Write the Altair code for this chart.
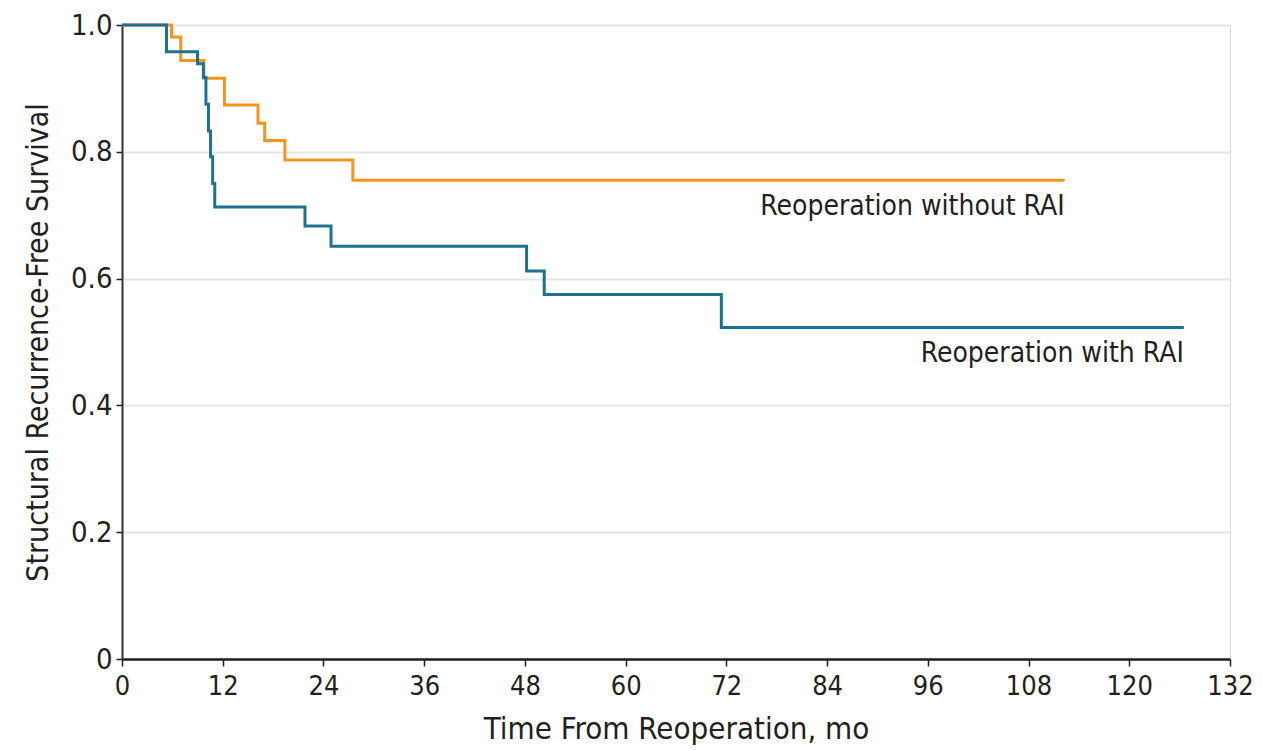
import altair as alt
import pandas as pd

# Kaplan-Meier step estimates
without_t = [0, 5.9, 7.0, 9.75, 12.2, 16.2, 17.0, 19.4, 27.5, 112.3]
without_s = [1.0, 0.981, 0.944, 0.916, 0.874, 0.845, 0.818, 0.787, 0.755, 0.755]

with_t = [0, 5.3, 9.0, 9.7, 10.0, 10.3, 10.55, 10.8, 11.05, 21.8, 24.9, 48.2, 50.3, 71.4, 126.5]
with_s = [1.0, 0.958, 0.939, 0.917, 0.875, 0.833, 0.792, 0.750, 0.713, 0.683, 0.651, 0.612, 0.575, 0.523, 0.523]

groups = ["Reoperation without RAI", "Reoperation with RAI"]
colors = ["#f7941d", "#1f7191"]
x_ticks = list(range(0, 133, 12))
y_ticks = [0, 0.2, 0.4, 0.6, 0.8, 1.0]

FONT = "Liberation Sans Narrow, DejaVu Sans Condensed, sans-serif"
TXT = "#231f20"

rows = []
for t, s in zip(without_t, without_s):
    rows.append({"time": t, "surv": s, "group": groups[0]})
for t, s in zip(with_t, with_s):
    rows.append({"time": t, "surv": s, "group": groups[1]})
df = pd.DataFrame(rows)

labels = pd.DataFrame({
    "time": [without_t[-1], with_t[-1]],
    "surv": [without_s[-1], with_s[-1]],
    "group": groups,
})

xscale = alt.Scale(domain=[0, 132], nice=False, zero=False)
yscale = alt.Scale(domain=[0, 1], nice=False)
cscale = alt.Scale(domain=groups, range=colors)

lines = alt.Chart(df).mark_line(interpolate="step-after", strokeWidth=3).encode(
    x=alt.X("time:Q", scale=xscale,
            axis=alt.Axis(values=x_ticks, title="Time From Reoperation, mo", grid=False,
                          labelFontSize=27, titleFontSize=31, labelPadding=7,
                          labelFlush=False, labelOverlap=False,
                          titlePadding=15, tickSize=7, tickWidth=1.5,
                          domainWidth=2.5, domainColor=TXT, tickColor=TXT,
                          labelColor=TXT, titleColor=TXT, titleFontWeight="normal",
                          labelFont=FONT, titleFont=FONT)),
    y=alt.Y("surv:Q", scale=yscale,
            axis=alt.Axis(values=y_ticks, title="Structural Recurrence-Free Survival",
                          labelExpr="datum.value == 0 ? '0' : format(datum.value, '.1f')",
                          grid=True, gridColor="#e6e6e6", gridWidth=2,
                          labelFlush=False, labelOverlap=False,
                          labelFontSize=29, titleFontSize=30, labelPadding=4,
                          titlePadding=17, tickSize=6, tickWidth=1.5,
                          domainWidth=2, domainColor="#333333", tickColor=TXT,
                          labelColor=TXT, titleColor=TXT, titleFontWeight="normal",
                          labelFont=FONT, titleFont=FONT)),
    color=alt.Color("group:N", scale=cscale, legend=None),
    detail="group:N",
)

text = alt.Chart(labels).mark_text(align="right", baseline="middle", dy=27,
                                   fontSize=28, font=FONT, color=TXT).encode(
    x=alt.X("time:Q", scale=xscale),
    y=alt.Y("surv:Q", scale=yscale),
    text="group:N",
)

chart = (lines + text).properties(
    width=1108, height=634,
    autosize=alt.AutoSizeParams(type="none"),
    padding={"left": 114, "top": 17, "right": 24, "bottom": 88},
).configure_view(stroke=None).configure(background="white")

chart.save("out.html", embed_options={"renderer": "svg", "actions": False})
